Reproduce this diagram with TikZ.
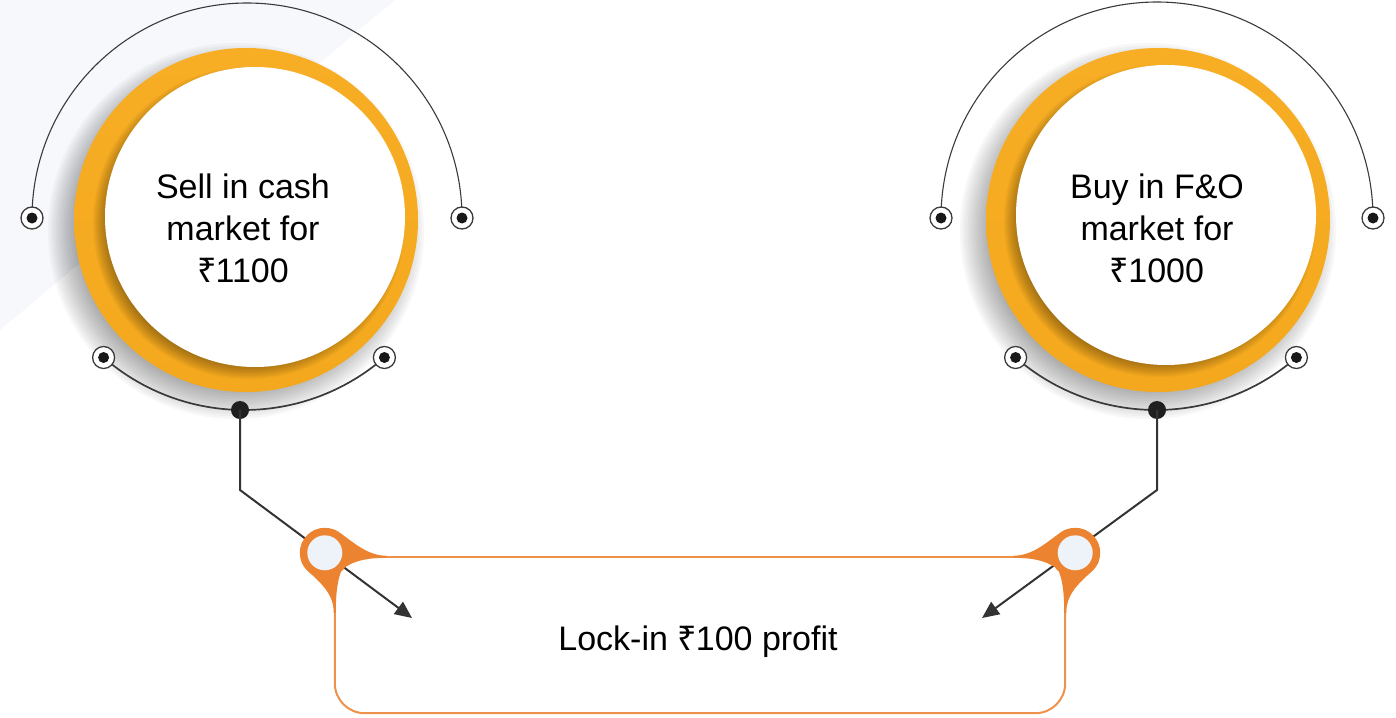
\documentclass[tikz,border=0pt]{standalone}
\usepackage{fontspec}
\setmainfont{Liberation Sans}
\newfontfamily\rupeefont{Noto Sans}
\usetikzlibrary{arrows.meta}
\newcommand{\rs}{{\rupeefont ₹}\kern-1pt}

\definecolor{ringorange}{HTML}{F4A81E}
\definecolor{ringlight}{HTML}{F7AE24}
\definecolor{knoborange}{HTML}{EC8330}
\definecolor{boxorange}{HTML}{EE914A}
\definecolor{holefill}{HTML}{EEF3F9}
\definecolor{linegrey}{HTML}{333333}
\definecolor{arcgrey}{HTML}{3A3A3A}
\definecolor{haze}{HTML}{F6F8FC}

\tikzset{
  ring/.style={circle, top color=ringlight, bottom color=ringorange,
    minimum size=344pt, inner sep=0pt},
  disk/.style={circle, fill=white, minimum size=300pt, inner sep=0pt},
  label/.style={align=center, font=\fontsize{34}{42}\selectfont, text=black},
  outerarc/.style={draw=arcgrey, line width=1.1pt},
  innerarc/.style={draw=arcgrey, line width=1.7pt},
  ringdot/.style={circle, draw=arcgrey, line width=1.3pt, fill=white,
    minimum size=22pt, inner sep=0pt,
    path picture={\fill[black!90] (path picture bounding box.center) circle (5.5pt);}},
  bigdot/.style={circle, fill=black!88, minimum size=18pt, inner sep=0pt},
  conn/.style={draw=linegrey, line width=2pt},
  tip/.style={-{Triangle[length=17pt,width=15pt]}},
  boxline/.style={draw=boxorange, line width=2pt},
  knob/.pic={
    % flare running right along the top edge
    \fill[knoborange] (70:25) .. controls (22,18) and (38,-3) .. (62,-3)
      -- (62,-5) .. controls (42,-5) and (30,-8) .. (-35:25) -- cycle;
    % flare running down along the side edge
    \fill[knoborange] (200:25) .. controls (-17.6,-23) and (9,-33) .. (9,-60)
      -- (11,-60) .. controls (11,-38) and (13,-28) .. (-50:25) -- cycle;
    \fill[knoborange] (0,0) circle (25);
    \fill[holefill] (0,0) circle (17.5);
  },
}
% soft shadow: stacked translucent discs, darkest in the middle
\newcommand{\softshadow}[4]{% centre, inner radius, spread, opacity step
  \foreach \k in {0,...,11}
    \fill[black, opacity=#4] (#1) circle ({#2+#3*(1-\k/11)});
}

\begin{document}
\begin{tikzpicture}[x=1pt,y=1pt]
\useasboundingbox (0,0) rectangle (1396,-717);
\fill[haze] (0,0) -- (395,0) -- (0,-330) -- cycle;

% the two rings with their discs
\softshadow{236,-231}{160}{28}{0.03}
\node[ring] (ringl) at (246,-220) {};
\softshadow{249,-223}{140}{16}{0.035}
\node[disk] (diskl) at (255,-217) {};
\node[label] (sell) at (243,-228) {Sell in cash\\market for\\\rs1100};

\softshadow{1148,-231}{160}{28}{0.03}
\node[ring] (ringr) at (1158,-220) {};
\softshadow{1160,-221}{140}{16}{0.035}
\node[disk] (diskr) at (1166,-215) {};
\node[label] (buy) at (1157,-228) {Buy in F\&O\\market for\\\rs1000};

% decorative arcs
\coordinate (lu1) at (32,-218);
\coordinate (lu2) at (462,-218);
\coordinate (ll1) at (103.6,-357.5);
\coordinate (ll2) at (384.4,-357.5);
\coordinate (ru1) at (941,-218);
\coordinate (ru2) at (1373,-218);
\coordinate (rl1) at (1015.6,-357.5);
\coordinate (rl2) at (1296.4,-357.5);

\draw[outerarc] (lu1) arc[start angle=180, end angle=0, radius=215];
\draw[innerarc] (ll1) arc[start angle=229, end angle=311, radius=214];
\draw[outerarc] (ru1) arc[start angle=180, end angle=0, radius=216];
\draw[innerarc] (rl1) arc[start angle=229, end angle=311, radius=214];

\foreach \p in {lu1,lu2,ll1,ll2,ru1,ru2,rl1,rl2}
  \node[ringdot] (d\p) at (\p) {};

\node[bigdot] (dotl) at (240,-410) {};
\node[bigdot] (dotr) at (1157,-410) {};

% result box
\node[minimum width=730pt, minimum height=156pt, inner sep=0pt] (lock) at (700,-635) {};
\node[label, anchor=base] (locktext) at (698,-650) {Lock-in \rs100 profit};
\draw[boxline] (lock.north west) -- (lock.north east);
\draw[boxline, rounded corners=30pt] (lock.north west) -- (lock.south west)
  -- (lock.south east) -- (lock.north east);

% connectors
\coordinate (bendl) at (240,-490);
\coordinate (tipl) at (412,-618);
\coordinate (bendr) at (1157,-490);
\coordinate (tipr) at (982,-618);
\draw[conn, tip] (dotl.center) -- (bendl) -- (tipl);
\draw[conn, tip] (dotr.center) -- (bendr) -- (tipr);

% knobs at the top corners of the box
\pic (kl) at ([shift={(-10,4)}]lock.north west) {knob};
\pic[xscale=-1] (kr) at ([shift={(10,4)}]lock.north east) {knob};
\end{tikzpicture}
\end{document}
